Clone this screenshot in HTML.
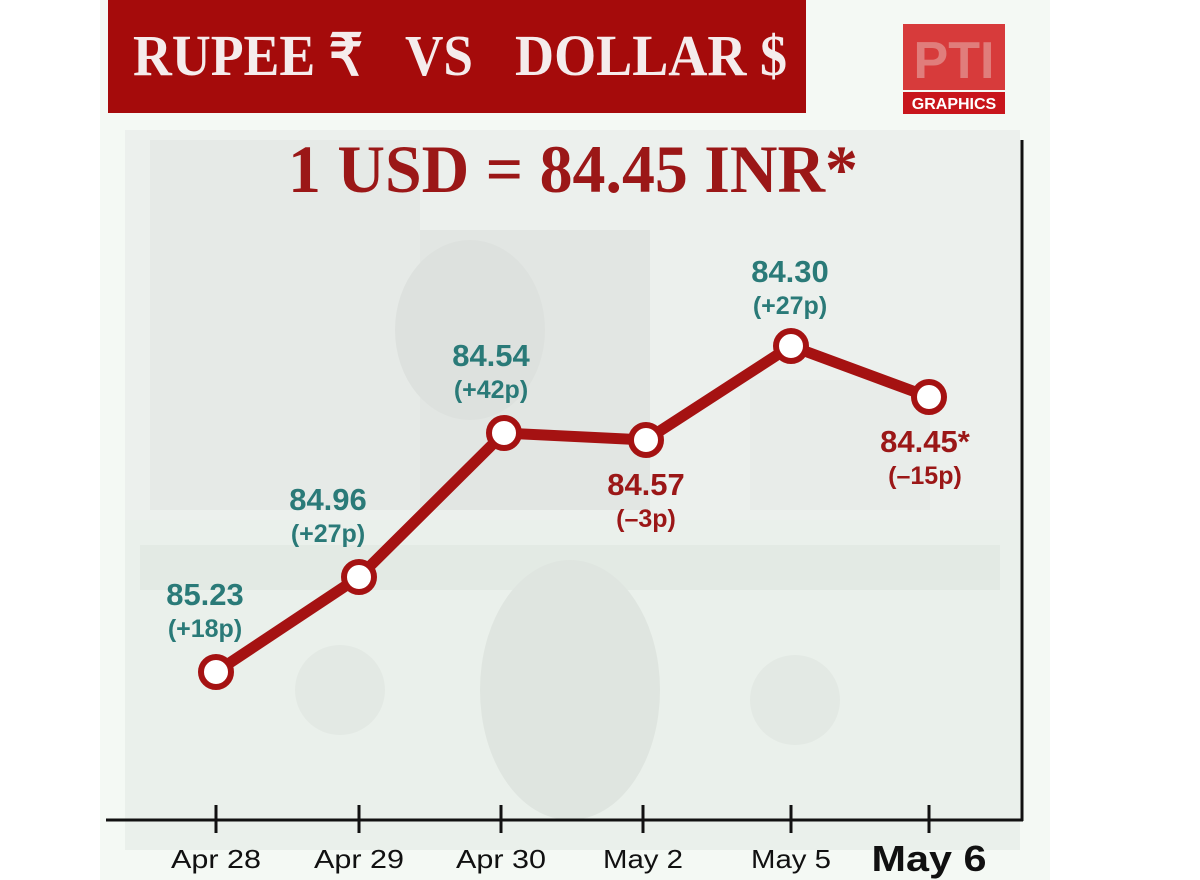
<!DOCTYPE html>
<html><head><meta charset="utf-8"><style>
body{margin:0;background:#fff}
svg{display:block}
</style></head><body>
<svg width="1200" height="880" viewBox="0 0 1200 880" xmlns="http://www.w3.org/2000/svg">
<rect width="1200" height="880" fill="#ffffff"/>
<rect x="100" y="0" width="950" height="880" fill="#f4f9f4"/>
<!-- rupee note -->
<rect x="125" y="130" width="895" height="390" fill="#ecf0ed"/>
<rect x="150" y="140" width="270" height="370" fill="#e6eae7"/>
<rect x="420" y="230" width="230" height="280" fill="#e2e6e3"/>
<ellipse cx="470" cy="330" rx="75" ry="90" fill="#dde1de"/>
<rect x="750" y="380" width="180" height="130" fill="#e8ece9"/>
<!-- dollar note -->
<rect x="125" y="520" width="895" height="330" fill="#eaf0eb"/>
<rect x="140" y="545" width="860" height="45" fill="#e3eae4"/>
<ellipse cx="570" cy="690" rx="90" ry="130" fill="#dfe5e0"/>
<circle cx="340" cy="690" r="45" fill="#e3e9e4"/>
<circle cx="795" cy="700" r="45" fill="#e3e9e4"/>
<!-- header -->
<rect x="108" y="0" width="698" height="113" fill="#a50b0b"/>
<g font-family="Liberation Serif,serif" font-weight="bold" font-size="58" fill="#f5ecec">
<text x="133" y="75" textLength="230" lengthAdjust="spacingAndGlyphs">RUPEE ₹</text>
<text x="405" y="75" textLength="68" lengthAdjust="spacingAndGlyphs">VS</text>
<text x="515" y="75" textLength="272" lengthAdjust="spacingAndGlyphs">DOLLAR $</text>
</g>
<!-- PTI logo -->
<rect x="903" y="24" width="102" height="66" fill="#d11a1a" opacity="0.85"/>
<text x="954" y="78" text-anchor="middle" font-family="Liberation Sans,sans-serif" font-weight="bold" font-size="52" fill="#f3f8f3" opacity="0.35">PTI</text>
<rect x="903" y="92" width="102" height="22" fill="#c8161c"/>
<text x="954" y="109" text-anchor="middle" font-family="Liberation Sans,sans-serif" font-weight="bold" font-size="16" fill="#fff">GRAPHICS</text>
<text x="573" y="192" text-anchor="middle" font-family="Liberation Serif,serif" font-weight="bold" font-size="68" fill="#9b1717" textLength="570" lengthAdjust="spacingAndGlyphs">1 USD = 84.45 INR*</text>
<!-- axes -->
<line x1="1022" y1="140" x2="1022" y2="821" stroke="#111" stroke-width="3"/>
<line x1="106" y1="820" x2="1023" y2="820" stroke="#111" stroke-width="3"/>
<g stroke="#111" stroke-width="3">
<line x1="216" y1="805" x2="216" y2="833"/><line x1="359" y1="805" x2="359" y2="833"/>
<line x1="501" y1="805" x2="501" y2="833"/><line x1="643" y1="805" x2="643" y2="833"/>
<line x1="791" y1="805" x2="791" y2="833"/><line x1="929" y1="805" x2="929" y2="833"/>
</g>
<g font-family="Liberation Sans,sans-serif" font-size="26" fill="#111" text-anchor="middle">
<text x="216" y="868" textLength="90" lengthAdjust="spacingAndGlyphs">Apr 28</text>
<text x="359" y="868" textLength="90" lengthAdjust="spacingAndGlyphs">Apr 29</text>
<text x="501" y="868" textLength="90" lengthAdjust="spacingAndGlyphs">Apr 30</text>
<text x="643" y="868" textLength="80" lengthAdjust="spacingAndGlyphs">May 2</text>
<text x="791" y="868" textLength="80" lengthAdjust="spacingAndGlyphs">May 5</text>
<text x="929" y="871" font-size="36" font-weight="bold" textLength="115" lengthAdjust="spacingAndGlyphs">May 6</text>
</g>
<!-- series -->
<polyline points="216,672 359,577 504,433 646,440 791,346 929,397" fill="none" stroke="#a51212" stroke-width="11" stroke-linejoin="round"/>
<g fill="#fff" stroke="#a51212" stroke-width="6">
<circle cx="216" cy="672" r="15"/><circle cx="359" cy="577" r="15"/>
<circle cx="504" cy="433" r="15"/><circle cx="646" cy="440" r="15"/>
<circle cx="791" cy="346" r="15"/><circle cx="929" cy="397" r="15"/>
</g>
<g font-family="Liberation Sans,sans-serif" font-weight="bold" text-anchor="middle">
<g fill="#2a7a78">
<text x="205" y="605" font-size="31">85.23</text><text x="205" y="637" font-size="25">(+18p)</text>
<text x="328" y="510" font-size="31">84.96</text><text x="328" y="542" font-size="25">(+27p)</text>
<text x="491" y="366" font-size="31">84.54</text><text x="491" y="398" font-size="25">(+42p)</text>
<text x="790" y="282" font-size="31">84.30</text><text x="790" y="314" font-size="25">(+27p)</text>
</g>
<g fill="#9b1717">
<text x="646" y="495" font-size="31">84.57</text><text x="646" y="527" font-size="25">(–3p)</text>
<text x="925" y="452" font-size="31">84.45*</text><text x="925" y="484" font-size="25">(–15p)</text>
</g>
</g>
</svg>
</body></html>
